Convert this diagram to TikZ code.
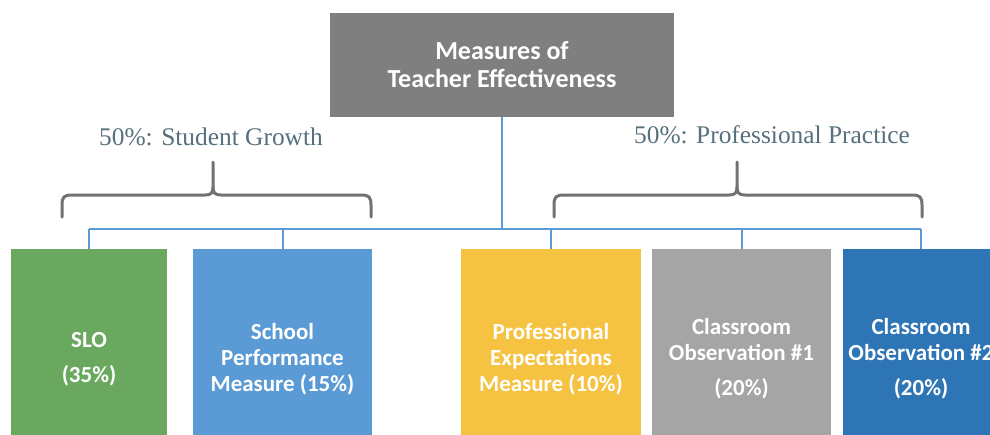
\documentclass[tikz,border=0pt]{standalone}
\usepackage{fontspec}
\newfontfamily\cfont{Carlito}
\newfontfamily\gfont{Liberation Serif}
\definecolor{titlegray}{HTML}{7F7F7F}
\definecolor{linkblue}{HTML}{5B9BD5}
\definecolor{bracegray}{HTML}{767171}
\definecolor{labelslate}{HTML}{56707E}
\definecolor{slogreen}{HTML}{6AA85F}
\definecolor{schoolblue}{HTML}{5B9BD5}
\definecolor{profyellow}{HTML}{F6C242}
\definecolor{obsgray}{HTML}{A5A5A5}
\definecolor{obsblue}{HTML}{2E75B6}
\tikzset{
  titlebox/.style={fill=titlegray, text=white, minimum width=344pt, minimum height=104pt,
    inner sep=0pt, align=center, font=\cfont\bfseries\fontsize{26}{28}\selectfont},
  measurebox/.style={minimum height=220pt, inner sep=0pt, text=white, align=center,
    font=\cfont\bfseries\fontsize{23}{26}\selectfont},
  grouplabel/.style={text=labelslate, inner sep=0pt, anchor=base, font=\gfont\fontsize{25.4}{28}\selectfont},
  link/.style={draw=linkblue, line width=1.8pt},
  bracket/.style={draw=bracegray, line width=3pt, line cap=round, line join=round}
}
\newcommand{\groupbrace}[3]{%
  \draw[bracket] (#1,217) -- (#1,205) .. controls (#1,197) and ({#1+2},195) .. ({#1+10},195)
     -- ({#2-8},195) .. controls ({#2-2},195) and (#2,193) .. (#2,187) -- (#2,162);
  \draw[bracket] (#2,187) .. controls (#2,193) and ({#2+2},195) .. ({#2+8},195)
     -- ({#3-10},195) .. controls ({#3-2},195) and (#3,197) .. (#3,205) -- (#3,217);
}
\begin{document}
\begin{tikzpicture}[x=1pt,y=-1pt]
\path[use as bounding box, clip] (0,0) rectangle (990,434);
\fill[white] (0,0) rectangle (990,434);

\node[titlebox] (title) at (502,65) {Measures of\\Teacher Effectiveness};

\node[grouplabel] (growth) at (211,145) {50\%: Student Growth};
\node[grouplabel] (practice) at (772,143) {50\%: Professional Practice};

\groupbrace{62}{213}{371}
\groupbrace{554}{737}{922}

\node[measurebox, fill=slogreen, minimum width=156pt] (slo) at (89,359) {SLO\\[9pt](35\%)};
\node[measurebox, fill=schoolblue, minimum width=179pt] (school) at (282.5,359) {School\\Performance\\Measure (15\%)};
\node[measurebox, fill=profyellow, minimum width=180pt] (prof) at (551,359) {Professional\\Expectations\\Measure (10\%)};
\node[measurebox, fill=obsgray, minimum width=179pt] (obs1) at (741.5,359) {Classroom\\Observation \#1\\[9pt](20\%)};
\node[measurebox, fill=obsblue, minimum width=156pt] (obs2) at (921,359) {Classroom\\Observation \#2\\[9pt](20\%)};

\coordinate (b1) at (89,229);
\coordinate (b2) at (283,229);
\coordinate (b3) at (551,229);
\coordinate (b4) at (742,229);
\coordinate (b5) at (921,229);
\coordinate (bc) at (502,229);

\draw[link] (title.south) -- (bc);
\draw[link] (b1) -- (b5);
\draw[link] (b1) -- (b1 |- slo.north);
\draw[link] (b2) -- (b2 |- school.north);
\draw[link] (b3) -- (b3 |- prof.north);
\draw[link] (b4) -- (b4 |- obs1.north);
\draw[link] (b5) -- (b5 |- obs2.north);
\end{tikzpicture}
\end{document}
